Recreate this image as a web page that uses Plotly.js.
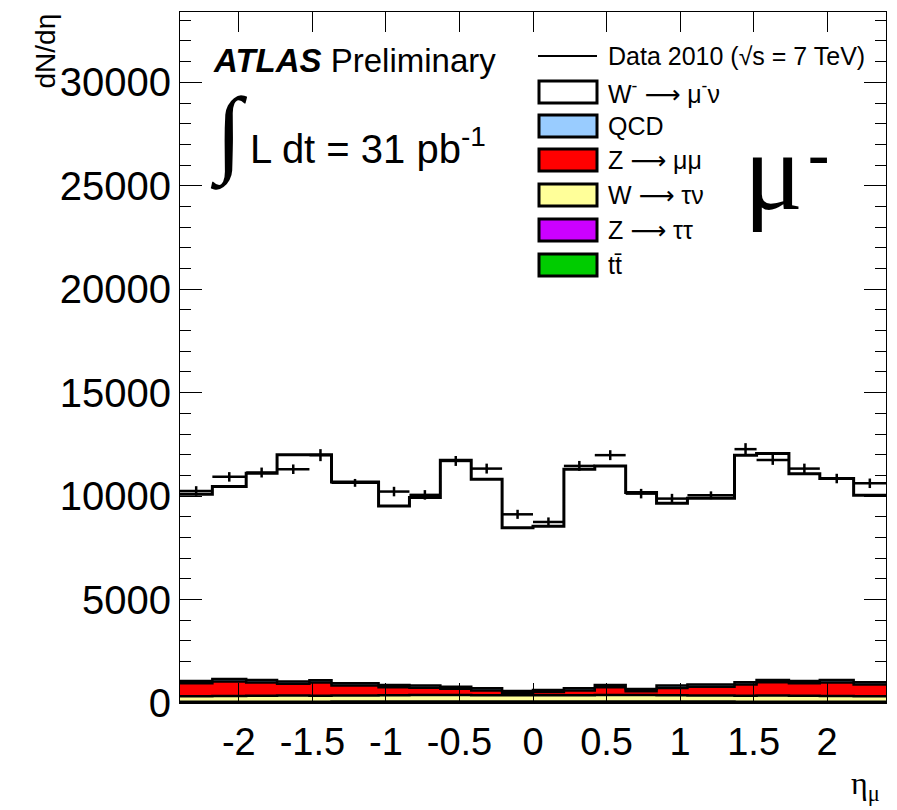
<!DOCTYPE html>
<html>
<head>
<meta charset="utf-8">
<script src="https://cdn.plot.ly/plotly-3.0.1.min.js"></script>
<style>
  html, body { margin: 0; padding: 0; background: #ffffff; }
  #chart { width: 897px; height: 810px; }
</style>
</head>
<body>
<div id="chart"></div>
<script>
// ---- data ----
const binEdges = [-2.4,-2.18,-1.95,-1.74,-1.52,-1.37,-1.05,-0.84,-0.63,-0.42,-0.21,0,0.21,0.42,0.63,0.84,1.05,1.37,1.52,1.74,1.95,2.18,2.4];

const ttbar   = [12,13,14,15,15,16,17,17,18,18,18,18,18,18,17,17,16,15,15,14,13,12];
const ztautau = [45,47,48,50,50,52,54,55,55,55,55,55,55,55,55,54,52,50,50,48,47,45];
const wtaunu  = [270,280,290,295,290,300,305,310,310,305,300,300,305,310,310,305,300,290,295,290,280,270];
const zmumu   = [630,705,640,570,635,480,385,355,300,230,110,155,230,380,185,355,420,535,640,600,655,565];
const qcd     = [110,115,115,110,110,110,110,105,105,100,100,100,100,105,105,110,110,110,110,115,115,110];
const wmunu   = [9020,9300,10000,10960,10900,9730,8650,9090,10950,10105,7890,7920,10590,10590,9500,8810,8995,10980,10950,10020,9740,9040];

const dataVals = [10250,10930,11140,11300,11980,10640,10220,10060,11700,11330,9120,8750,11460,11980,10120,9880,10040,12270,11750,11330,10850,10620];
const dataErr  = [230,230,240,230,290,190,230,230,240,240,220,220,240,240,230,230,190,290,240,240,230,230];

const xTickVals = [-2,-1.5,-1,-0.5,0,0.5,1,1.5,2];
const xTickText = ["-2","-1.5","-1","-0.5","0","0.5","1","1.5","2"];

const ARROW = "<span style='font-family:DejaVu Sans'>\u27f6</span>";
const legendLabels = ["Data 2010 (\u221as = 7 TeV)", "W<sup>-</sup> " + ARROW + " \u03bc<sup>-</sup>\u03bd", "QCD", "Z " + ARROW + " \u03bc\u03bc", "W " + ARROW + " \u03c4\u03bd", "Z " + ARROW + " \u03c4\u03c4", "tt\u0304"];
const legendColors = [null, "#ffffff", "#99ccff", "#ff0000", "#ffff99", "#cc00ff", "#00cc00"];

// ---- build stacked step histograms ----
const stackOrder = [
  {vals: ttbar,   color: "#00cc00"},
  {vals: ztautau, color: "#cc00ff"},
  {vals: wtaunu,  color: "#ffff99"},
  {vals: zmumu,   color: "#ff0000"},
  {vals: qcd,     color: "#99ccff"},
  {vals: wmunu,   color: "#ffffff"}
];

const traces = [];
let cum = new Array(ttbar.length).fill(0);
stackOrder.forEach((comp, i) => {
  cum = cum.map((c, k) => c + comp.vals[k]);
  const ys = cum.slice();
  ys.push(cum[cum.length - 1]);
  traces.push({
    type: "scatter", mode: "lines",
    x: binEdges, y: ys,
    line: {shape: "hv", color: "#000000", width: i === 5 ? 3 : 2.5},
    fill: i === 0 ? "tozeroy" : "tonexty",
    fillcolor: comp.color,
    hoverinfo: "skip"
  });
});

const centers = [], halfW = [];
for (let k = 0; k < binEdges.length - 1; k++) {
  centers.push((binEdges[k] + binEdges[k + 1]) / 2);
  halfW.push((binEdges[k + 1] - binEdges[k]) / 2);
}
traces.push({
  type: "scatter", mode: "markers",
  x: centers, y: dataVals,
  marker: {size: 2, color: "#000000"},
  error_x: {type: "data", array: halfW, visible: true, color: "#000000", thickness: 2.5, width: 0},
  error_y: {type: "data", array: dataErr, visible: true, color: "#000000", thickness: 2.5, width: 0}
});

// ---- layout helpers ----
const L = 180, R = 886, T = 12, B = 703;
const px = v => (v - L) / (R - L);
const py = v => (B - v) / (B - T);

const shapes = [];
const annotations = [];
const rowY = [56, 92, 126, 160, 195, 230, 265];
legendLabels.forEach((lab, i) => {
  if (i === 0) {
    shapes.push({type: "line", xref: "paper", yref: "paper",
      x0: px(538), x1: px(597), y0: py(rowY[i]), y1: py(rowY[i]),
      line: {color: "#000000", width: 2}});
  } else {
    shapes.push({type: "rect", xref: "paper", yref: "paper",
      x0: px(539), x1: px(597), y0: py(rowY[i] + 11), y1: py(rowY[i] - 11),
      fillcolor: legendColors[i], line: {color: "#000000", width: 3}});
  }
  annotations.push({xref: "paper", yref: "paper", x: px(606), y: py(rowY[i]),
    xanchor: "left", yanchor: "middle", showarrow: false, text: lab,
    font: {family: "Liberation Sans, Arial, sans-serif", size: 25, color: "#000000"}});
});

annotations.push({xref: "paper", yref: "paper", x: px(211), y: py(60),
  xanchor: "left", yanchor: "middle", showarrow: false,
  text: "<b><i>ATLAS</i></b> Preliminary",
  font: {family: "Liberation Sans, Arial, sans-serif", size: 33, color: "#000000"}});
annotations.push({xref: "paper", yref: "paper", x: px(208), y: py(134),
  xanchor: "left", yanchor: "middle", showarrow: false,
  text: "\u222b",
  font: {family: "Liberation Serif, Times New Roman, serif", size: 96, color: "#000000"}});
annotations.push({xref: "paper", yref: "paper", x: px(248), y: py(146),
  xanchor: "left", yanchor: "middle", showarrow: false,
  text: "L dt = 31 pb<sup>-1</sup>",
  font: {family: "Liberation Sans, Arial, sans-serif", size: 40, color: "#000000"}});
annotations.push({xref: "paper", yref: "paper", x: px(742), y: py(172),
  xanchor: "left", yanchor: "middle", showarrow: false,
  text: "\u03bc",
  font: {family: "Liberation Serif, Times New Roman, serif", size: 110, color: "#000000"}});
annotations.push({xref: "paper", yref: "paper", x: px(806), y: py(153),
  xanchor: "left", yanchor: "middle", showarrow: false,
  text: "<b>-</b>",
  font: {family: "Liberation Serif, Times New Roman, serif", size: 64, color: "#000000"}});
annotations.push({xref: "paper", yref: "paper", x: px(45), y: 1,
  xanchor: "center", yanchor: "top", showarrow: false, textangle: -90,
  text: "dN/d\u03b7",
  font: {family: "Liberation Sans, Arial, sans-serif", size: 28, color: "#000000"}});
annotations.push({xref: "paper", yref: "paper", x: px(882), y: py(785),
  xanchor: "right", yanchor: "middle", showarrow: false,
  text: "\u03b7<sub>\u03bc</sub>",
  font: {family: "Liberation Serif, Times New Roman, serif", size: 32, color: "#000000"}});

const layout = {
  width: 897, height: 810,
  margin: {l: L, r: 897 - R, t: T, b: 810 - B, pad: 0},
  paper_bgcolor: "#ffffff", plot_bgcolor: "#ffffff",
  showlegend: false,
  xaxis: {
    range: [-2.4, 2.4], tickmode: "array", tickvals: xTickVals, ticktext: xTickText,
    ticks: "inside", ticklen: 20, tickwidth: 1, tickcolor: "#000000",
    showline: true, linecolor: "#000000", linewidth: 1, mirror: "ticks",
    showgrid: false, zeroline: false, ticklabelstandoff: 5,
    tickfont: {family: "Liberation Sans, Arial, sans-serif", size: 38, color: "#000000"}
  },
  yaxis: {
    range: [0, 33400], tickmode: "linear", tick0: 0, dtick: 5000, tickformat: "d",
    ticks: "inside", ticklen: 22, tickwidth: 1, tickcolor: "#000000",
    minor: {tickmode: "linear", tick0: 0, dtick: 1000, ticks: "inside", ticklen: 11, tickcolor: "#000000", tickwidth: 1, showgrid: false},
    showline: true, linecolor: "#000000", linewidth: 1, mirror: "ticks",
    showgrid: false, zeroline: false, ticklabelstandoff: 0,
    tickfont: {family: "Liberation Sans, Arial, sans-serif", size: 40, color: "#000000"}
  },
  shapes: shapes,
  annotations: annotations
};

Plotly.newPlot("chart", traces, layout, {displayModeBar: false, staticPlot: true});
</script>
</body>
</html>
